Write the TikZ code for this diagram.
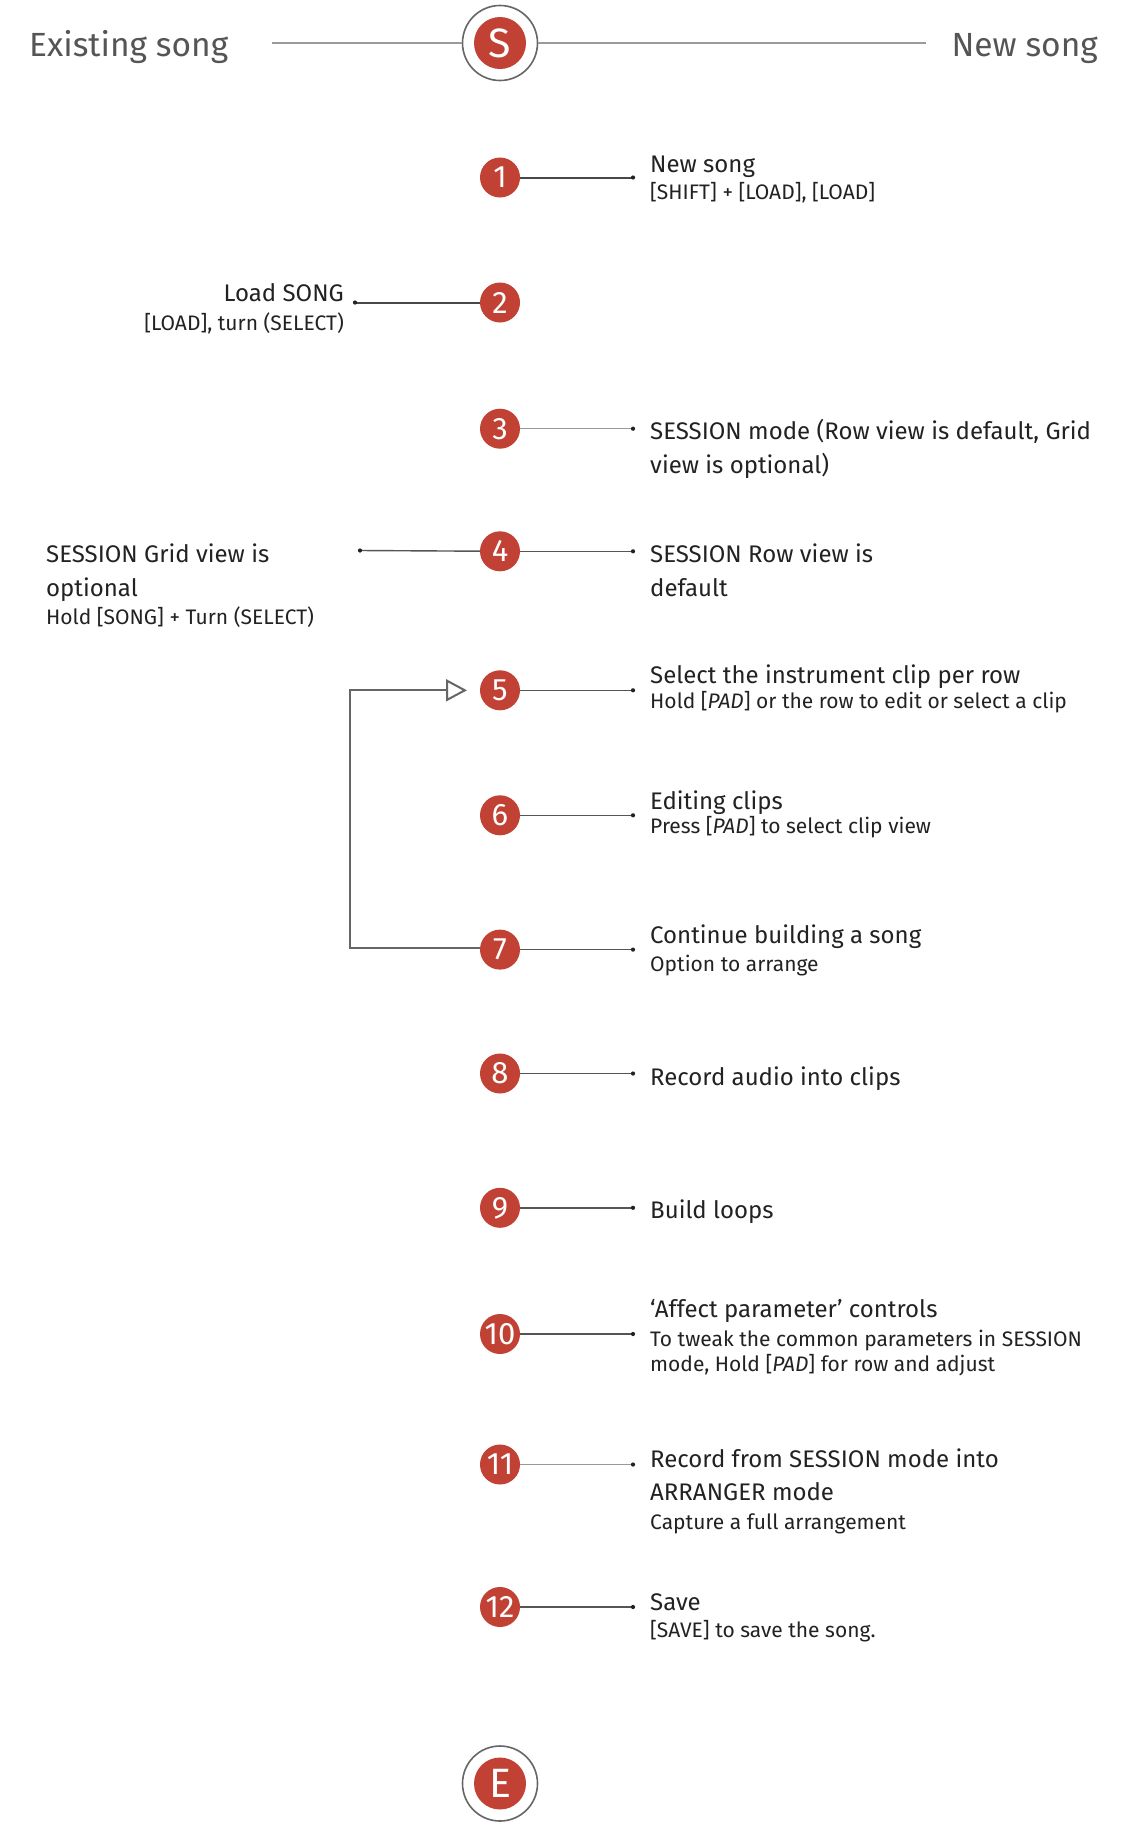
\documentclass[tikz,border=0pt]{standalone}
\usepackage{fontspec}
\setmainfont{Fira Sans}
\usetikzlibrary{arrows.meta,backgrounds}
\definecolor{redc}{HTML}{C14134}
\definecolor{textc}{HTML}{222222}
\definecolor{titlec}{HTML}{555555}
\definecolor{ringc}{HTML}{666666}
\definecolor{hdrc}{HTML}{9A9A9A}
\definecolor{leadc}{HTML}{555555}
\tikzset{
  x=1pt,y=-1pt,
  stepnode/.style={circle,fill=redc,minimum size=40pt,inner sep=0pt,text=white,font=\fontsize{31}{31}\selectfont},
  ringnode/.style={circle,draw=ringc,line width=1.6pt,fill=white,minimum size=75pt,inner sep=0pt},
  capnode/.style={circle,fill=redc,minimum size=52pt,inner sep=0pt,text=white,font=\fontsize{41}{41}\selectfont},
  maintext/.style={anchor=base west,inner sep=0pt,text=textc,font=\fontsize{24}{30}\selectfont},
  subtext/.style={anchor=base west,inner sep=0pt,text=textc,font=\fontsize{21}{25}\selectfont},
  mainleft/.style={maintext,anchor=base east},
  subleft/.style={subtext,anchor=base east},
  titletext/.style={inner sep=0pt,text=titlec,font=\fontsize{33.5}{38}\selectfont},
  leader/.style={draw=leadc,line width=1.4pt},
  leaderdark/.style={draw=leadc!85!black,line width=2pt},
  leaderlight/.style={draw=leadc!60,line width=1.2pt},
  leaddot/.style={fill=textc},
  redline/.style={draw=redc,line width=1.2pt},
  hdrline/.style={draw=hdrc,line width=1.6pt},
  loopline/.style={draw=ringc,line width=2pt},
}
\begin{document}
\begin{tikzpicture}
\useasboundingbox (0,0) rectangle (1126,1832);
\fill[white] (0,0) rectangle (1126,1832);

% start / end
\node[ringnode] (sring) at (500,43) {};
\node[capnode] (scap) at (500,43) {S};
\node[ringnode] (ering) at (500,1783.5) {};
\node[capnode] (ecap) at (500,1783.5) {E};

% titles
\node[titletext,anchor=base west] (tleft) at (29,56.5) {Existing song};
\node[titletext,anchor=base east] (tright) at (1098,56.5) {New song};
\coordinate (hl) at (272,43);
\coordinate (hr) at (926,43);
\draw[hdrline] (hl) -- (sring);
\draw[hdrline] (sring) -- (hr);

% steps
\node[stepnode] (n1) at (500,177.5) {1};
\node[stepnode] (n2) at (500,302.5) {2};
\node[stepnode] (n3) at (500,428.7) {3};
\node[stepnode] (n4) at (500,551.3) {4};
\node[stepnode] (n5) at (500,690.3) {5};
\node[stepnode] (n6) at (500,815.3) {6};
\node[stepnode] (n7) at (500,949.6) {7};
\node[stepnode] (n8) at (500,1073.5) {8};
\node[stepnode] (n9) at (500,1207.8) {9};
\node[stepnode] (n10) at (500,1334) {10};
\node[stepnode] (n11) at (500,1464.5) {11};
\node[stepnode] (n12) at (500,1607) {12};

\begin{scope}[on background layer]
\draw[redline] (sring) -- (ering);
\end{scope}

% leader end points
\coordinate (d1) at (633,177.5);
\coordinate (d2) at (355,302.5);
\coordinate (d3) at (633,428.7);
\coordinate (d4) at (633,551.3);
\coordinate (d4l) at (360,550.5);
\coordinate (d5) at (633,690.3);
\coordinate (d6) at (633,815.3);
\coordinate (d7) at (633,949.6);
\coordinate (d8) at (633,1073.5);
\coordinate (d9) at (633,1207.8);
\coordinate (d10) at (633,1334);
\coordinate (d11) at (633,1464.5);
\coordinate (d12) at (633,1607);

\draw[leaderdark] (n1) -- (d1);
\draw[leaderdark] (n2) -- (d2);
\draw[leaderlight] (n3) -- (d3);
\draw[leader] (n4) -- (d4);
\draw[leader] (n4) -- (d4l);
\draw[leader] (n5) -- (d5);
\draw[leader] (n6) -- (d6);
\draw[leader] (n7) -- (d7);
\draw[leader] (n8) -- (d8);
\draw[leader] (n9) -- (d9);
\draw[leader] (n10) -- (d10);
\draw[leaderlight] (n11) -- (d11);
\draw[leader] (n12) -- (d12);
\foreach \d in {d1,d2,d3,d4,d4l,d5,d6,d7,d8,d9,d10,d11,d12}
  \fill[leaddot] (\d) circle (2.1pt);

% loop back arrow
\coordinate (c7) at (350,948);
\coordinate (c5) at (350,690.3);
\coordinate (loopend) at (467,690.3);
\draw[loopline,-{Triangle[open,length=21pt,width=22pt]}] (n7.west |- c7) -- (c7) -- (c5) -- (loopend);

% texts
\node[maintext] (t1a) at (650,172) {New song};
\node[subtext] (t1b) at (650,199.7) {[SHIFT] + [LOAD], [LOAD]};

\node[mainleft] (t2a) at (344,301.7) {Load SONG};
\node[subleft] (t2b) at (344,330.5) {[LOAD], turn (SELECT)};

\node[maintext] (t3a) at (650,439.5) {SESSION mode (Row view is default, Grid};
\node[maintext] (t3b) at (650,473.4) {view is optional)};

\node[maintext] (t4a) at (650,562) {SESSION Row view is};
\node[maintext] (t4b) at (650,596) {default};

\node[maintext] (t4la) at (46,562) {SESSION Grid view is};
\node[maintext] (t4lb) at (46,596) {optional};
\node[subtext] (t4lc) at (46,624.5) {Hold [SONG] + Turn (SELECT)};

\node[maintext] (t5a) at (650,683.5) {Select the instrument clip per row};
\node[subtext] (t5b) at (650,708) {Hold [\textit{PAD}] or the row to edit or select a clip};

\node[maintext] (t6a) at (650,809.5) {Editing clips};
\node[subtext] (t6b) at (650,833.7) {Press [\textit{PAD}] to select clip view};

\node[maintext] (t7a) at (650,943) {Continue building a song};
\node[subtext] (t7b) at (650,971) {Option to arrange};

\node[maintext] (t8a) at (650,1085.5) {Record audio into clips};

\node[maintext] (t9a) at (650,1218.6) {Build loops};

\node[maintext] (t10a) at (650,1317.3) {‘Affect parameter’ controls};
\node[subtext] (t10b) at (650,1346.7) {To tweak the common parameters in SESSION};
\node[subtext] (t10c) at (650,1371.7) {mode, Hold [\textit{PAD}] for row and adjust};

\node[maintext] (t11a) at (650,1467) {Record from SESSION mode into};
\node[maintext] (t11b) at (650,1500.7) {ARRANGER mode};
\node[subtext] (t11c) at (650,1529.3) {Capture a full arrangement};

\node[maintext] (t12a) at (650,1610) {Save};
\node[subtext] (t12b) at (650,1637.7) {[SAVE] to save the song.};
\end{tikzpicture}
\end{document}
